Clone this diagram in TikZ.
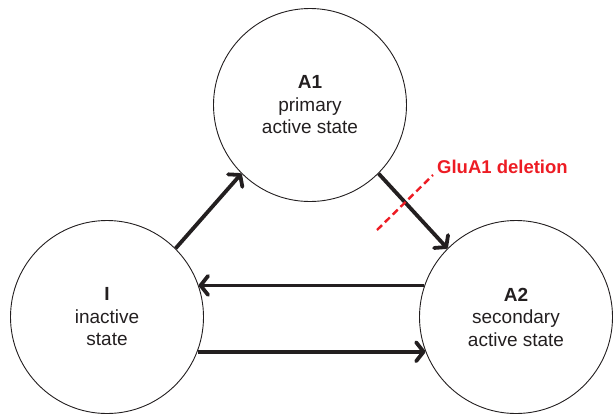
\documentclass[tikz,border=0pt]{standalone}
\usepackage{fontspec}
\setmainfont{Liberation Sans}
\usetikzlibrary{arrows.meta}
\definecolor{ink}{HTML}{231F20}
\definecolor{gred}{HTML}{ED1C24}
\begin{document}
\begin{tikzpicture}[x=1pt,y=-1pt,
  state/.style={circle, draw=ink, line width=0.9pt, minimum size=193pt, inner sep=0pt,
    align=center, font=\fontsize{19}{22.5}\selectfont, text=ink},
  trans/.style={draw=ink, line width=3.8pt, line cap=butt,
    -{Straight Barb[length=7.5pt,width=19pt,line cap=round,line join=round]}},
  block/.style={gred, line width=2.4pt, dash pattern=on 7pt off 4pt},
  blocklabel/.style={font=\bfseries\fontsize{18.5}{22}\selectfont, text=gred, anchor=west, inner sep=0pt}
]
\useasboundingbox (0,0) rectangle (613,416);
\node[state] (A1) at (310,105) {\textbf{A1}\\primary\\active state};
\node[state] (I) at (107,317) {\textbf{I}\\inactive\\state};
\node[state] (A2) at (516,317) {\textbf{A2}\\secondary\\active state};

\draw[trans] (I.45) -- (A1.225);
\draw[trans] (A1.-45) -- (A2.135);
\draw[trans] (A2.161) -- (I.19);
\draw[trans] (I.-21) -- (A2.201);

\node[blocklabel] (lab) at (437,167) {GluA1 deletion};
\coordinate (d1) at (377,230);
\coordinate (d2) at (433,175);
\draw[block] (d1) -- (d2);
\end{tikzpicture}
\end{document}
